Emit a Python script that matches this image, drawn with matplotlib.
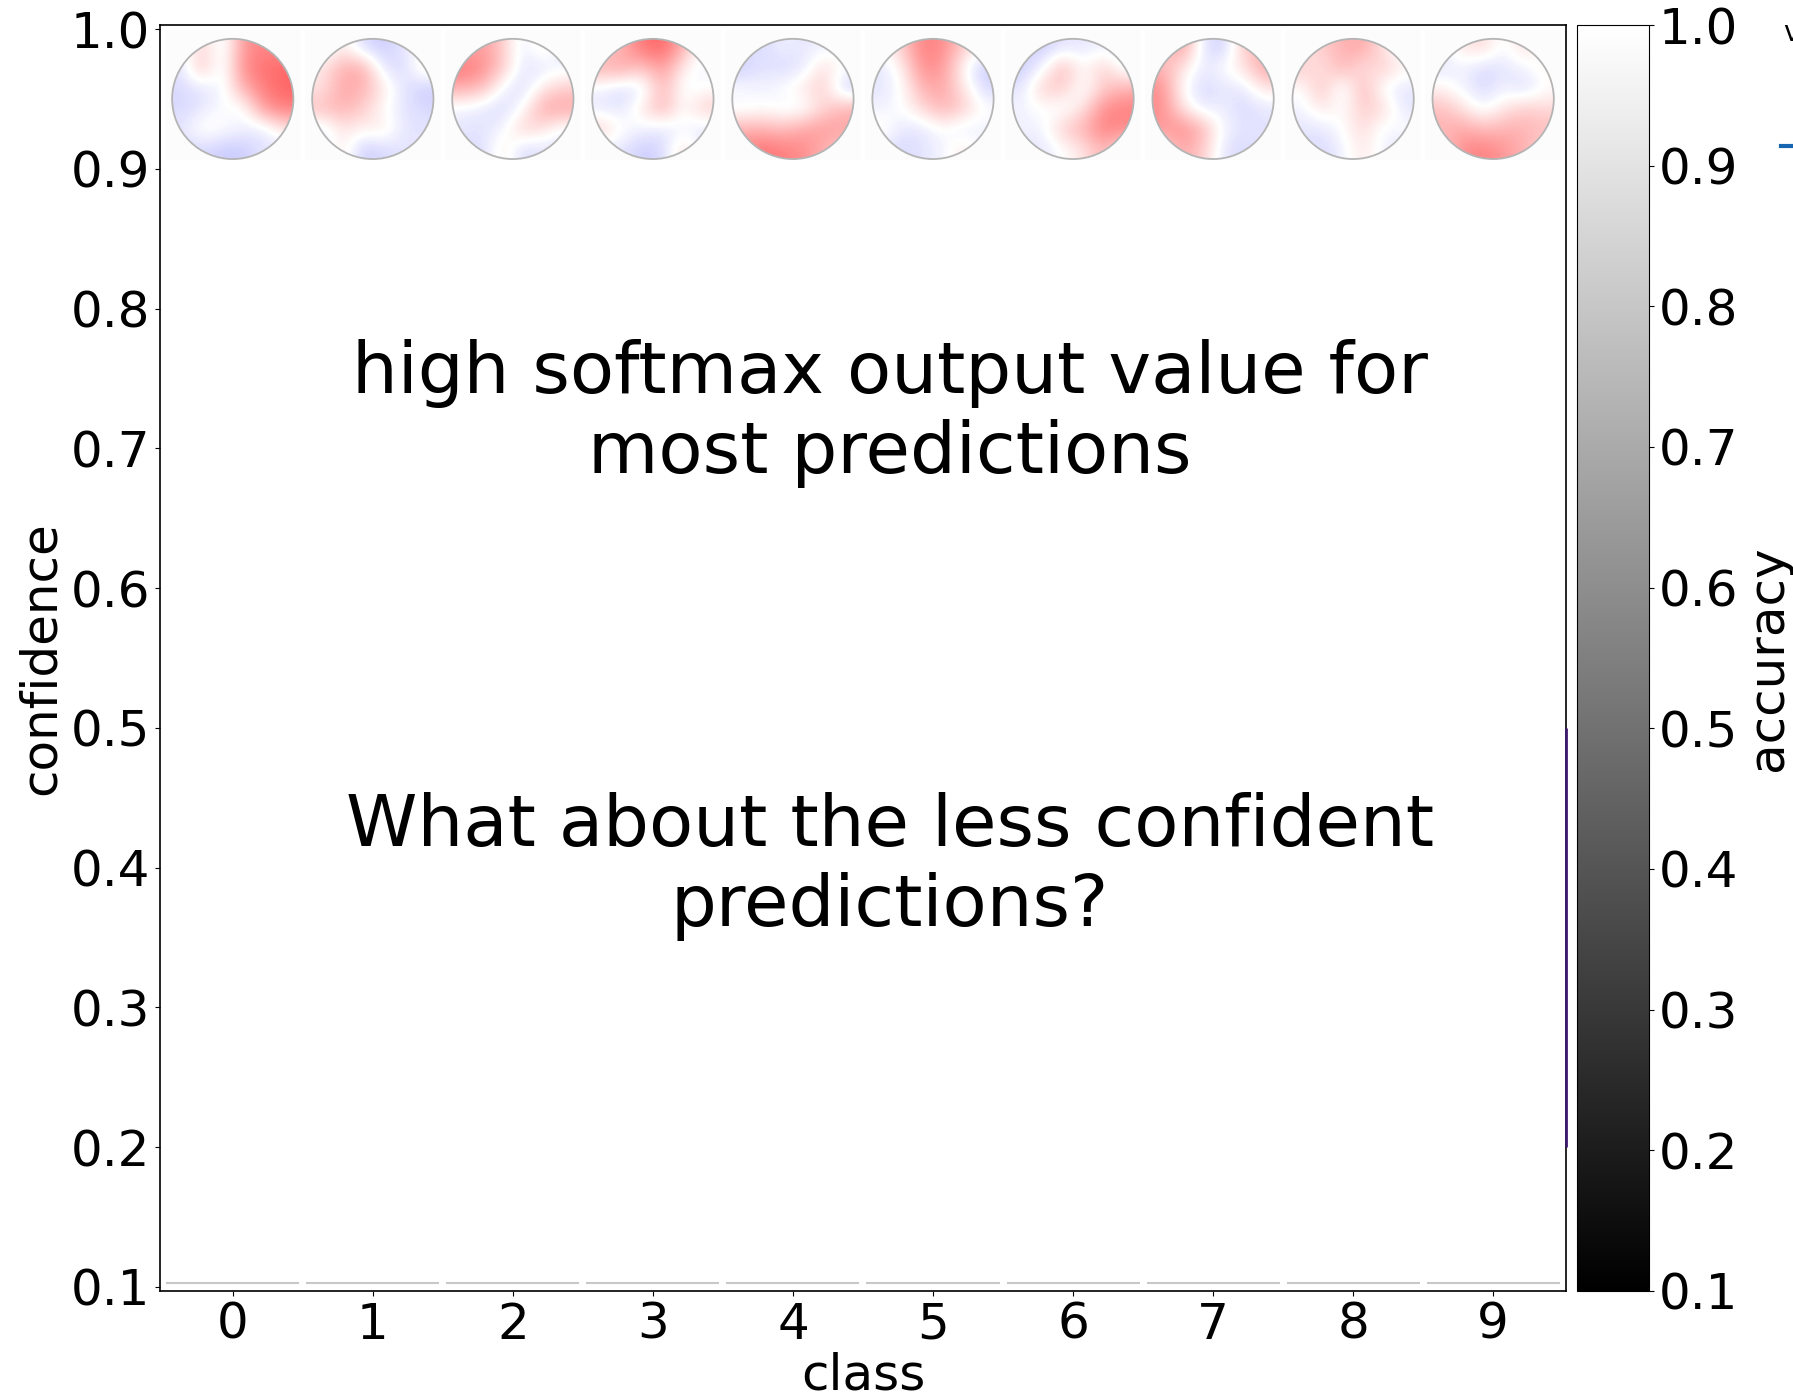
import numpy as np
import matplotlib
matplotlib.use('Agg')
import matplotlib.pyplot as plt
from matplotlib.patches import Ellipse, Rectangle
from matplotlib.lines import Line2D
from matplotlib.colors import Normalize
from matplotlib.cm import ScalarMappable

classes = np.arange(10)
conf_ticks = [0.1, 0.2, 0.3, 0.4, 0.5, 0.6, 0.7, 0.8, 0.9, 1.0]
# per-class floor of the confidence bars
floor_conf = [0.103, 0.103, 0.103, 0.103, 0.103, 0.103, 0.103, 0.103, 0.103, 0.103]
# band drawn on the right edge
edge_band = [0.2, 0.5]

# coarse 6x6 relevance maps per class (rows top -> bottom)
map_0 = [[-0.10, 0.20, -0.10, 0.40, 0.50, 0.40],
         [-0.10, 0.25, -0.10, 0.45, 0.55, 0.60],
         [-0.15, -0.10, -0.05, 0.30, 0.50, 0.60],
         [-0.15, -0.10, 0.00, -0.05, 0.40, 0.50],
         [-0.10, 0.05, 0.00, -0.05, -0.10, 0.10],
         [-0.15, -0.15, -0.20, -0.20, -0.10, -0.10]]
map_1 = [[-0.10, 0.10, -0.15, -0.20, -0.10, 0.00],
         [0.10, 0.30, 0.35, -0.10, -0.15, 0.10],
         [0.10, 0.35, 0.30, 0.10, -0.10, -0.20],
         [0.25, 0.30, 0.20, 0.00, -0.10, -0.15],
         [-0.10, 0.10, 0.05, 0.10, -0.10, -0.10],
         [-0.10, 0.10, -0.20, -0.15, -0.10, -0.10]]
map_2 = [[0.30, 0.40, 0.20, -0.10, 0.10, -0.10],
         [0.55, 0.45, 0.20, -0.10, -0.10, -0.05],
         [0.30, 0.25, -0.05, -0.15, 0.10, 0.20],
         [-0.05, -0.10, -0.15, 0.00, 0.35, 0.35],
         [-0.10, -0.10, -0.05, 0.20, 0.10, -0.05],
         [-0.10, -0.15, 0.10, -0.15, -0.10, -0.10]]
map_3 = [[0.20, 0.30, 0.55, 0.60, 0.30, -0.05],
         [0.30, 0.35, 0.20, 0.40, 0.05, -0.05],
         [-0.05, -0.15, -0.10, 0.30, -0.05, 0.00],
         [-0.10, -0.10, 0.10, 0.30, 0.00, 0.20],
         [0.20, 0.00, -0.05, -0.10, -0.05, -0.10],
         [-0.10, -0.10, -0.20, -0.15, 0.15, -0.10]]
map_4 = [[-0.10, -0.15, -0.05, -0.10, -0.05, -0.05],
         [-0.20, -0.10, -0.15, -0.10, 0.15, 0.00],
         [0.00, -0.05, 0.00, 0.10, 0.20, -0.20],
         [-0.05, 0.00, -0.05, -0.05, 0.15, 0.30],
         [0.30, 0.30, 0.25, 0.35, 0.40, 0.35],
         [0.45, 0.55, 0.50, 0.45, 0.30, 0.20]]
map_5 = [[0.00, 0.20, 0.50, 0.45, 0.20, 0.00],
         [-0.10, 0.05, 0.45, 0.40, 0.00, -0.20],
         [-0.10, 0.00, 0.30, 0.35, 0.10, -0.15],
         [-0.05, 0.00, 0.15, 0.30, 0.20, 0.00],
         [0.05, -0.10, -0.10, 0.00, -0.10, -0.05],
         [-0.10, -0.15, -0.10, -0.05, 0.10, -0.05]]
map_6 = [[-0.15, -0.20, -0.10, -0.10, -0.05, -0.10],
         [-0.20, -0.05, 0.30, 0.00, 0.20, -0.05],
         [-0.10, 0.20, 0.20, -0.05, 0.20, 0.30],
         [-0.05, 0.00, -0.05, 0.10, 0.45, 0.50],
         [-0.05, -0.05, 0.20, 0.30, 0.50, 0.45],
         [-0.10, -0.10, 0.00, 0.10, 0.30, 0.10]]
map_7 = [[0.20, 0.40, -0.10, -0.20, 0.20, 0.30],
         [0.30, 0.10, -0.10, 0.00, 0.10, 0.35],
         [0.45, 0.00, -0.15, -0.10, -0.10, 0.10],
         [0.45, 0.10, -0.10, -0.05, -0.15, -0.10],
         [0.40, 0.45, 0.30, -0.05, -0.10, -0.10],
         [0.10, 0.35, 0.20, -0.10, -0.15, -0.10]]
map_8 = [[0.10, 0.20, 0.30, 0.35, 0.10, -0.05],
         [0.20, 0.10, 0.30, 0.10, 0.20, 0.05],
         [0.00, 0.25, -0.10, 0.30, -0.05, -0.10],
         [-0.05, 0.10, 0.00, 0.20, 0.15, -0.10],
         [-0.10, -0.10, 0.00, 0.15, -0.05, 0.00],
         [-0.10, -0.15, -0.05, 0.10, -0.05, -0.10]]
map_9 = [[-0.05, 0.10, 0.15, -0.05, 0.15, -0.05],
         [-0.10, -0.05, -0.15, -0.10, -0.05, 0.05],
         [0.05, -0.05, -0.15, -0.05, -0.15, 0.00],
         [0.25, 0.10, -0.05, 0.10, 0.20, 0.15],
         [0.30, 0.35, 0.25, 0.30, 0.30, 0.25],
         [0.20, 0.45, 0.50, 0.40, 0.30, 0.15]]
class_maps = [map_0, map_1, map_2, map_3, map_4, map_5, map_6, map_7, map_8, map_9]

FS = 36

fig = plt.figure(figsize=(17.93, 13.97), dpi=100)
ax = fig.add_axes([0.0892, 0.0759, 0.7842, 0.9062])
cax = fig.add_axes([0.8795, 0.0759, 0.0402, 0.9062])

# head maps along the top
for i, grid in zip(classes, class_maps):
    ax.add_patch(Rectangle((i - 0.485, 0.906), 0.97, 0.093, facecolor='#fcfcfc',
                           edgecolor='none', zorder=1))
    im = ax.imshow(np.array(grid), cmap='bwr', vmin=-1, vmax=1, aspect='auto',
                   extent=(i - 0.433, i + 0.433, 0.907, 0.993),
                   interpolation='bicubic', zorder=2)
    head = Ellipse((i, 0.95), 0.866, 0.086, facecolor='none', edgecolor='#b4b4b4',
                   lw=1.3, zorder=3)
    ax.add_patch(head)
    im.set_clip_path(head)

ax.hlines(floor_conf, classes - 0.475, classes + 0.475, colors='#c8c8c8', lw=1.5, zorder=2)

ax.set_xlim(-0.52, 9.52)
ax.set_ylim(0.0971, 1.0029)
ax.vlines(ax.get_xlim()[1], edge_band[0], edge_band[1], colors='#3f1a6e', lw=2,
          zorder=4, clip_on=False)

ax.text(4.69, 0.725, 'high softmax output value for\nmost predictions',
        ha='center', va='center', fontsize=52, multialignment='center')
ax.text(4.69, 0.401, 'What about the less confident\npredictions?',
        ha='center', va='center', fontsize=52, multialignment='center')

ax.set_xticks(classes)
ax.set_yticks(conf_ticks)
ax.set_yticklabels(['%.1f' % t for t in conf_ticks])
ax.tick_params(labelsize=FS)
ax.set_xlabel('class', fontsize=FS, labelpad=2)
ax.set_ylabel('confidence', fontsize=FS)
for s in ax.spines.values():
    s.set_linewidth(1.2)

sm = ScalarMappable(norm=Normalize(0.1, 1.0), cmap='gray')
cb = fig.colorbar(sm, cax=cax)
cb.set_ticks(conf_ticks)
cb.set_ticklabels(['%.1f' % t for t in conf_ticks])
cax.tick_params(labelsize=FS)
cb.set_label('accuracy', fontsize=FS)

# legend stub running off the right edge
fig.text(1783 / 1793, 1 - 33 / 1397, 'val', fontsize=20, va='center', ha='left')
fig.add_artist(Line2D([1781 / 1793, 1.0], [1 - 146 / 1397] * 2, color='#1565b0', lw=3,
                      transform=fig.transFigure))

fig.savefig('out.png', dpi=100)
